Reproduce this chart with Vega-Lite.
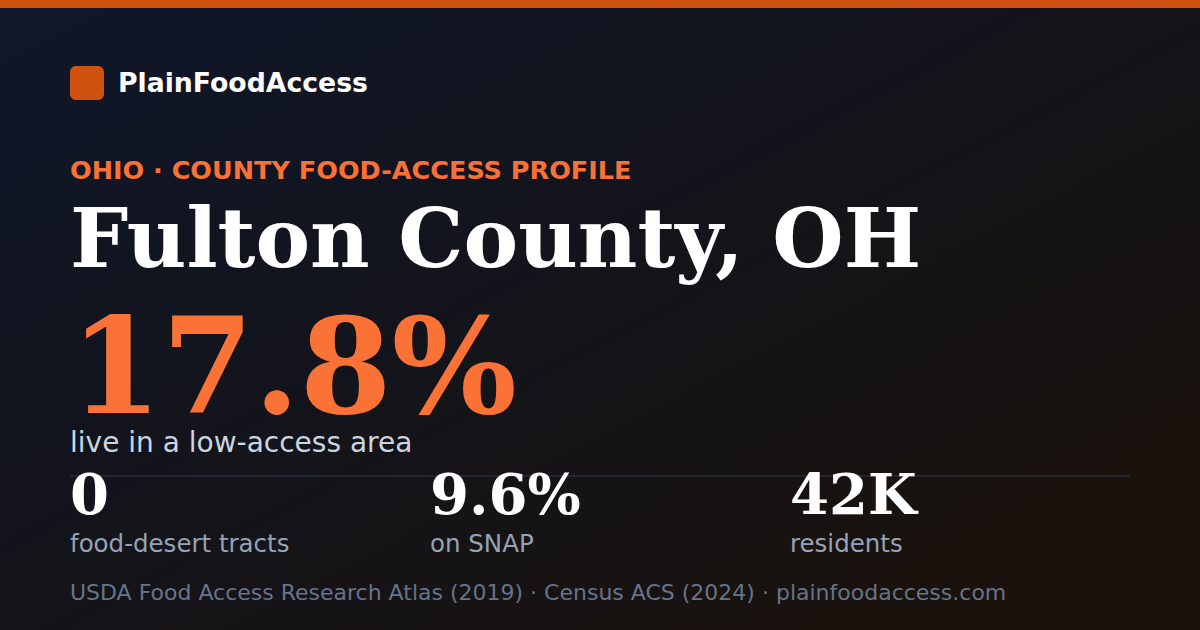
{
  "$schema": "https://vega.github.io/schema/vega-lite/v6.json",
  "width": 1200,
  "height": 630,
  "padding": 0,
  "autosize": {"type": "fit", "contains": "padding"},
  "background": "#121420",
  "config": {"view": {"stroke": null}},
  "data": {"values": [
    {"role": "bg", "line": 0, "line_end": 12},
    {"role": "bar", "line": 0, "line_end": 1},
    {"role": "logo", "line": 2, "col": 0},
    {"role": "brand", "line": 3, "col": 0, "text": "PlainFoodAccess"},
    {"role": "kicker", "line": 4, "col": 0, "text": "OHIO · COUNTY FOOD-ACCESS PROFILE"},
    {"role": "title", "line": 5, "col": 0, "text": "Fulton County, OH"},
    {"role": "headline", "line": 6, "col": 0, "text": "17.8%"},
    {"role": "subtitle", "line": 7, "col": 0, "text": "live in a low-access area"},
    {"role": "divider", "line": 8, "col": 0, "col_end": 3},
    {"role": "stat", "line": 9, "col": 0, "text": "0"},
    {"role": "stat", "line": 9, "col": 1, "text": "9.6%"},
    {"role": "stat", "line": 9, "col": 2, "text": "42K"},
    {"role": "statlabel", "line": 10, "col": 0, "text": "food-desert tracts"},
    {"role": "statlabel", "line": 10, "col": 1, "text": "on SNAP"},
    {"role": "statlabel", "line": 10, "col": 2, "text": "residents"},
    {"role": "source", "line": 11, "col": 0, "text": "USDA Food Access Research Atlas (2019) · Census ACS (2024) · plainfoodaccess.com"}
  ]},
  "encoding": {
    "y": {"field": "line", "type": "quantitative", "axis": null,
          "scale": {"domain": [0,1,2,3,4,5,6,7,8,9,10,11,12], "range": [0,8,83,92,179,267,413,452,476,514,552,600,630], "zero": false, "nice": false}}
  },
  "layer": [
    {
      "transform": [{"filter": "datum.role == 'bg'"}],
      "mark": {"type": "rect", "color": {"gradient": "linear", "x1": 0, "y1": 0, "x2": 1, "y2": 1,
        "stops": [{"offset": 0, "color": "#0f172a"}, {"offset": 0.5, "color": "#141419"}, {"offset": 1, "color": "#1c1108"}]}},
      "encoding": {"x": {"value": 0}, "x2": {"value": "width"}, "y2": {"field": "line_end"}}
    },
    {
      "transform": [{"filter": "datum.role == 'bar'"}],
      "mark": {"type": "rect", "color": "#cf5210"},
      "encoding": {"x": {"value": 0}, "x2": {"value": "width"}, "y2": {"field": "line_end"}}
    },
    {
      "transform": [{"filter": "datum.role == 'logo'"}],
      "mark": {"type": "rect", "color": "#cf5210", "width": 34, "height": 34, "cornerRadius": 6, "xOffset": 17},
      "encoding": {"x": {"field": "col", "type": "quantitative", "axis": null,
        "scale": {"domain": [0,1,2,3], "range": [70,430,790,1130], "zero": false, "nice": false}}}
    },
    {
      "transform": [{"filter": "datum.role == 'divider'"}],
      "mark": {"type": "rule", "color": "#272d39", "strokeWidth": 1.5},
      "encoding": {"x": {"field": "col", "type": "quantitative"}, "x2": {"field": "col_end"}}
    },
    {
      "transform": [{"filter": "datum.role == 'brand'"}],
      "mark": {"type": "text", "align": "left", "baseline": "alphabetic", "dx": 48, "font": "DejaVu Sans", "fontWeight": "bold", "fontSize": 26.7, "color": "#ffffff"},
      "encoding": {"x": {"field": "col", "type": "quantitative"}, "text": {"field": "text"}}
    },
    {
      "transform": [{"filter": "datum.role == 'kicker'"}],
      "mark": {"type": "text", "align": "left", "baseline": "alphabetic", "font": "DejaVu Sans", "fontWeight": "bold", "fontSize": 25.5, "color": "#f97136"},
      "encoding": {"x": {"field": "col", "type": "quantitative"}, "text": {"field": "text"}}
    },
    {
      "transform": [{"filter": "datum.role == 'title'"}],
      "mark": {"type": "text", "align": "left", "baseline": "alphabetic", "font": "DejaVu Serif", "fontWeight": "bold", "fontSize": 82, "color": "#ffffff"},
      "encoding": {"x": {"field": "col", "type": "quantitative"}, "text": {"field": "text"}}
    },
    {
      "transform": [{"filter": "datum.role == 'headline'"}],
      "mark": {"type": "text", "align": "left", "baseline": "alphabetic", "font": "DejaVu Serif", "fontWeight": "bold", "fontSize": 132, "color": "#fb7237"},
      "encoding": {"x": {"field": "col", "type": "quantitative"}, "text": {"field": "text"}}
    },
    {
      "transform": [{"filter": "datum.role == 'subtitle'"}],
      "mark": {"type": "text", "align": "left", "baseline": "alphabetic", "font": "DejaVu Sans", "fontSize": 28, "color": "#cbd5e1"},
      "encoding": {"x": {"field": "col", "type": "quantitative"}, "text": {"field": "text"}}
    },
    {
      "transform": [{"filter": "datum.role == 'stat'"}],
      "mark": {"type": "text", "align": "left", "baseline": "alphabetic", "font": "DejaVu Serif", "fontWeight": "bold", "fontSize": 56, "color": "#ffffff"},
      "encoding": {"x": {"field": "col", "type": "quantitative"}, "text": {"field": "text"}}
    },
    {
      "transform": [{"filter": "datum.role == 'statlabel'"}],
      "mark": {"type": "text", "align": "left", "baseline": "alphabetic", "font": "DejaVu Sans", "fontSize": 24.5, "color": "#94a3b8"},
      "encoding": {"x": {"field": "col", "type": "quantitative"}, "text": {"field": "text"}}
    },
    {
      "transform": [{"filter": "datum.role == 'source'"}],
      "mark": {"type": "text", "align": "left", "baseline": "alphabetic", "font": "DejaVu Sans", "fontSize": 22, "color": "#64748b"},
      "encoding": {"x": {"field": "col", "type": "quantitative"}, "text": {"field": "text"}}
    }
  ]
}
